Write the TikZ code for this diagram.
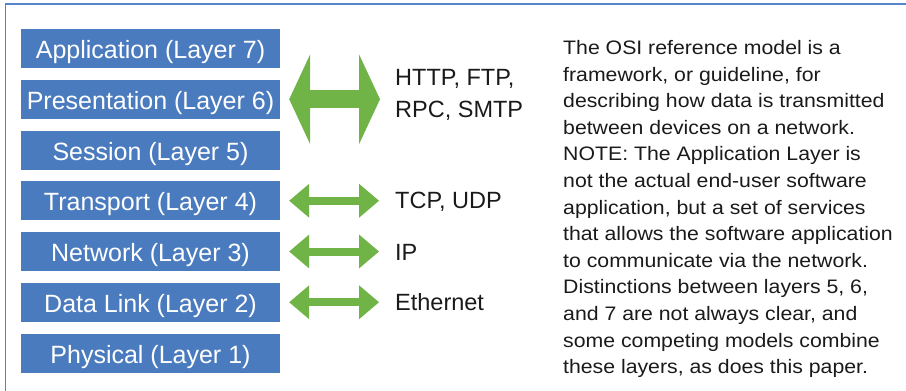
\documentclass[tikz,border=0pt]{standalone}
\usepackage{fontspec}
\setmainfont{Liberation Sans}
\newfontfamily\notefont{Liberation Sans}[FakeStretch=1.09]
\usetikzlibrary{arrows.meta}

\definecolor{layerblue}{RGB}{74,123,190}
\definecolor{frameblue}{RGB}{84,132,202}
\definecolor{linkgreen}{RGB}{112,179,71}
\definecolor{ink}{RGB}{26,26,26}

\tikzset{
  layer/.style={fill=layerblue,text=white,minimum width=259pt,minimum height=39pt,inner sep=0pt,
    text height=24pt,text depth=4pt,font=\fontsize{25}{30}\selectfont},
  proto/.style={text=ink,inner sep=0pt,align=left,anchor=base west,font=\fontsize{23.5}{32}\selectfont},
  biglink/.style={linkgreen,line width=18pt,
    {Triangle[length=21pt,width=90pt,line width=0pt]}-{Triangle[length=21pt,width=90pt,line width=0pt]}},
  link/.style={linkgreen,line width=8pt,
    {Triangle[length=20pt,width=34pt,line width=0pt]}-{Triangle[length=20pt,width=34pt,line width=0pt]}},
}

\begin{document}
\begin{tikzpicture}[x=1pt,y=-1pt]
\useasboundingbox (0,0) rectangle (906,391);
\draw[frameblue,line width=1.5pt] (5.3,391) -- (5.3,4) -- (906,4);

% the seven layers, top down
\foreach \n/\name [count=\i from 0] in {7/Application,6/Presentation,5/Session,4/Transport,3/Network,2/Data Link,1/Physical}
  \node[layer] (l\n) at (150.5,48.5+50.75*\i) {\name{} (Layer \n)};

% base of a multi-line node is its last line
\node[proto] (app) at (395,117) {HTTP, FTP,\\RPC, SMTP};
\node[proto] (tcp) at (395,208.5) {TCP, UDP};
\node[proto] (ip) at (395,260.5) {IP};
\node[proto] (eth) at (395,310.5) {Ethernet};

\draw[biglink,shorten <=9pt,shorten >=15pt] (l6.east) -- (l6.east -| app.west);
\draw[link,shorten <=9pt,shorten >=16pt] (l4.east) -- (l4.east -| tcp.west);
\draw[link,shorten <=9pt,shorten >=16pt] (l3.east) -- (l3.east -| ip.west);
\draw[link,shorten <=9pt,shorten >=16pt] (l2.east) -- (l2.east -| eth.west);

\node[anchor=base west,inner sep=0pt,align=left,text=ink,font=\notefont\fontsize{19.5}{26.6}\selectfont] (note) at (563,373.7)
  {The OSI reference model is a\\
   framework, or guideline, for\\
   describing how data is transmitted\\
   between devices on a network.\\
   NOTE: The Application Layer is\\
   not the actual end-user software\\
   application, but a set of services\\
   that allows the software application\\
   to communicate via the network.\\
   Distinctions between layers 5, 6,\\
   and 7 are not always clear, and\\
   some competing models combine\\
   these layers, as does this paper.};
\end{tikzpicture}
\end{document}
